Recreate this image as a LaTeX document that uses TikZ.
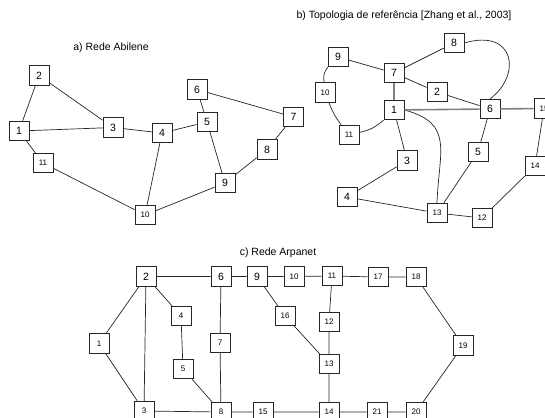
\documentclass[tikz,border=0pt]{standalone}
\usepackage{fontspec}
\setmainfont{Liberation Sans}
\begin{document}
\begin{tikzpicture}[x=1pt,y=-1pt,
  nd/.style={draw=black!85,line width=0.8pt,fill=white,minimum width=20pt,minimum height=19.5pt,inner sep=0pt,font=\fontsize{10.5}{11}\selectfont},
  sm/.style={nd,font=\fontsize{8}{9}\selectfont},
  ln/.style={draw=black!85,line width=0.7pt},
  gl/.style={draw=black!50,line width=1.6pt},
  ttl/.style={font=\fontsize{10.5}{12}\selectfont,inner sep=0pt}]
\useasboundingbox (0,0) rectangle (545,417);
% ---------- a) Abilene
\node[ttl] (ta) at (111,48) {a) Rede Abilene};
\node[nd] (a1) at (19,131) {1};
\node[nd] (a2) at (39,75.5) {2};
\node[nd] (a3) at (113,127.5) {3};
\node[nd] (a4) at (162,133) {4};
\node[nd] (a5) at (207,122) {5};
\node[nd] (a6) at (197,89.5) {6};
\node[nd] (a7) at (293.5,117) {7};
\node[nd] (a8) at (267,149.5) {8};
\node[nd] (a9) at (225,183) {9};
\node[sm] (a10) at (145,215) {10};
\node[sm] (a11) at (43,163) {11};
\draw[ln] (a1)--(a2) (a2)--(a3) (a1)--(a3) (a3)--(a4) (a4)--(a5) (a5)--(a6)
  (a6)--(a7) (a7)--(a8) (a8)--(a9) (a5)--(a9) (a9)--(a10) (a4)--(a10)
  (a10)--(a11) (a1)--(a11);
% ---------- b) Zhang
\node[ttl] (tb) at (404,16) {b) Topologia de referência [Zhang et al., 2003]};
\node[nd] (b1) at (394,110) {1};
\node[nd] (b2) at (437,92) {2};
\node[nd] (b3) at (407,160.5) {3};
\node[nd] (b4) at (347,197) {4};
\node[nd] (b5) at (478,152) {5};
\node[nd] (b6) at (490,109) {6};
\node[nd] (b7) at (394,73) {7};
\node[nd] (b8) at (454,43) {8};
\node[nd] (b9) at (338,57) {9};
\node[sm] (b10) at (325,92.5) {10};
\node[sm] (b11) at (349,135) {11};
\node[sm] (b12) at (482,218) {12};
\node[sm] (b13) at (437,213) {13};
\node[sm] (b14) at (535,166) {14};
\node[sm] (b15) at (544,108.5) {15};
\draw[ln] (b9)--(b7) (b7)--(b8) (b7)--(b2) (b2)--(b6) (b6)--(b5) (b5)--(b13)
  (b1)--(b3) (b3)--(b4) (b4)--(b13) (b13)--(b12) (b12)--(b14) (b14)--(b15);
\draw[ln] (b9) to[bend right=25] (b10);
\draw[ln] (b10) to[bend right=8] (b11);
\draw[ln] (b11) to[bend right=15] (b1);
\draw[ln] (b8.east) .. controls (515,28) and (522,75) .. (b6.north);
\draw[ln] (b1.east) to[out=-15,in=88,looseness=1.35] (b13.north);
\draw[gl] (b1)--(b6) (b6)--(b15) (b7)--(b1);
% ---------- c) Arpanet
\node[ttl] (tc) at (278,253) {c) Rede Arpanet};
\node[sm] (c1) at (99,343.5) {1};
\node[nd] (c2) at (146,276.5) {2};
\node[sm] (c3) at (144,411) {3};
\node[sm] (c4) at (181,316) {4};
\node[sm] (c5) at (183,369) {5};
\node[nd] (c6) at (221,276.5) {6};
\node[sm] (c7) at (220,343) {7};
\node[sm] (c8) at (221,412) {8};
\node[nd] (c9) at (257,276.5) {9};
\node[sm] (c10) at (294,276.5) {10};
\node[sm] (c11) at (332,276) {11};
\node[sm] (c12) at (329,322) {12};
\node[sm] (c13) at (329,364) {13};
\node[sm] (c14) at (329,412) {14};
\node[sm] (c15) at (263,412) {15};
\node[sm] (c16) at (285,316) {16};
\node[sm] (c17) at (378,277) {17};
\node[sm] (c18) at (416,277) {18};
\node[sm] (c19) at (463,345.5) {19};
\node[sm] (c20) at (416,412) {20};
\node[sm] (c21) at (377,412) {21};
\draw[ln] (c1)--(c2) (c1)--(c3) (c2)--(c3) (c2)--(c6) (c2)--(c4) (c4)--(c5)
  (c5)--(c8) (c6)--(c7) (c7)--(c8) (c6)--(c9) (c9)--(c10) (c10)--(c11)
  (c9)--(c16) (c16)--(c13) (c11)--(c12) (c12)--(c13) (c13)--(c14)
  (c11)--(c17) (c17)--(c18) (c18)--(c19) (c19)--(c20) (c3)--(c8) (c8)--(c15)
  (c15)--(c14) (c14)--(c21) (c21)--(c20);
\end{tikzpicture}
\end{document}
